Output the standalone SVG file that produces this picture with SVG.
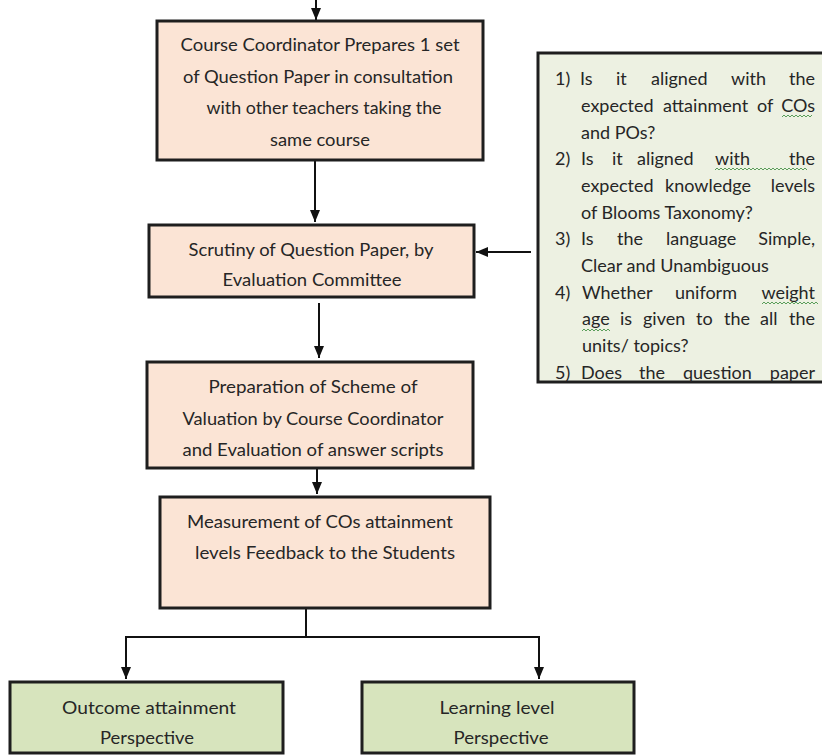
<svg xmlns="http://www.w3.org/2000/svg" width="822" height="755" viewBox="0 0 822 755">
  <style>
    .peach { fill: #FBE4D5; stroke: #1e1e1e; stroke-width: 3; }
    .olive { fill: #D7E4BD; stroke: #1e1e1e; stroke-width: 3; }
    .note  { fill: #EDF1E2; stroke: #1e1e1e; stroke-width: 3; }
    .lbl   { font-family: Lato, "Open Sans", "Liberation Sans", sans-serif; font-size: 17px; fill: #262626; text-anchor: middle; }
    .big   { font-size: 18px; }
    .q     { font-family: Lato, "Open Sans", "Liberation Sans", sans-serif; font-size: 18px; fill: #262626; }
    .qe    { text-anchor: end; }
    .wire  { fill: none; stroke: #111; stroke-width: 2; }
    .squig { fill: none; stroke: #5a9e5a; stroke-width: 1; }
  </style>
  <defs>
    <marker id="ah" viewBox="0 0 12 10" refX="12" refY="5" markerWidth="12" markerHeight="10" markerUnits="userSpaceOnUse" orient="auto">
      <path d="M0,0 L12,5 L0,10 z" fill="#111"/>
    </marker>
    <clipPath id="noteClip">
      <rect x="538" y="53" width="290" height="329"/>
    </clipPath>
  </defs>

  <!-- connectors -->
  <g id="connectors">
    <path class="wire" d="M316,-4 V20" marker-end="url(#ah)"/>
    <path class="wire" d="M315,160 V222" marker-end="url(#ah)"/>
    <path class="wire" d="M531,252 H476" marker-end="url(#ah)"/>
    <path class="wire" d="M319,303 V358" marker-end="url(#ah)"/>
    <path class="wire" d="M317,468 V494" marker-end="url(#ah)"/>
    <path class="wire" d="M306,608 V637"/>
    <path class="wire" d="M125,637 H540"/>
    <path class="wire" d="M126,637 V679" marker-end="url(#ah)"/>
    <path class="wire" d="M539,637 V679" marker-end="url(#ah)"/>
  </g>

  <!-- process steps -->
  <g id="prepare">
    <rect class="peach" x="157" y="21" width="326" height="139"/>
    <text class="lbl" x="320" y="51" textLength="279" lengthAdjust="spacingAndGlyphs">Course Coordinator Prepares 1 set</text>
    <text class="lbl" x="318" y="83" textLength="270" lengthAdjust="spacingAndGlyphs">of Question Paper in consultation</text>
    <text class="lbl" x="324" y="114" textLength="235" lengthAdjust="spacingAndGlyphs">with other teachers taking the</text>
    <text class="lbl" x="320" y="146" textLength="100" lengthAdjust="spacingAndGlyphs">same course</text>
  </g>

  <g id="scrutiny">
    <rect class="peach" x="149" y="225" width="325" height="72"/>
    <text class="lbl" x="311" y="256" textLength="245" lengthAdjust="spacingAndGlyphs">Scrutiny of Question Paper, by</text>
    <text class="lbl" x="312" y="286" textLength="179" lengthAdjust="spacingAndGlyphs">Evaluation Committee</text>
  </g>

  <g id="scheme">
    <rect class="peach" x="147" y="362" width="326" height="106"/>
    <text class="lbl" x="313" y="393" textLength="209" lengthAdjust="spacingAndGlyphs">Preparation of Scheme of</text>
    <text class="lbl" x="313" y="425" textLength="261" lengthAdjust="spacingAndGlyphs">Valuation by Course Coordinator</text>
    <text class="lbl" x="313" y="456" textLength="261" lengthAdjust="spacingAndGlyphs">and Evaluation of answer scripts</text>
  </g>

  <g id="measurement">
    <rect class="peach" x="160" y="497" width="330" height="111"/>
    <text class="lbl" x="320" y="528" textLength="266" lengthAdjust="spacingAndGlyphs">Measurement of COs attainment</text>
    <text class="lbl" x="325" y="559" textLength="260" lengthAdjust="spacingAndGlyphs">levels Feedback to the Students</text>
  </g>

  <g id="outcome">
    <rect class="olive" x="10" y="682" width="273" height="71"/>
    <text class="lbl big" x="149" y="714" textLength="174" lengthAdjust="spacingAndGlyphs">Outcome attainment</text>
    <text class="lbl big" x="147" y="744" textLength="94" lengthAdjust="spacingAndGlyphs">Perspective</text>
  </g>

  <g id="learning">
    <rect class="olive" x="362" y="682" width="272" height="71"/>
    <text class="lbl big" x="497" y="714" textLength="115" lengthAdjust="spacingAndGlyphs">Learning level</text>
    <text class="lbl big" x="501" y="744" textLength="95" lengthAdjust="spacingAndGlyphs">Perspective</text>
  </g>

  <!-- checklist used during scrutiny -->
  <g id="checklist">
    <rect class="note" x="538" y="53" width="290" height="329"/>
    <g clip-path="url(#noteClip)">
      <text class="q" y="85"><tspan x="555">1)</tspan><tspan x="580">Is</tspan><tspan x="616">it</tspan><tspan x="651">aligned</tspan><tspan x="731">with</tspan></text>
      <text class="q qe" x="815" y="85">the</text>

      <text class="q" y="112"><tspan x="581">expected</tspan><tspan x="663">attainment</tspan><tspan x="757">of</tspan></text>
      <text class="q qe" x="815" y="112">COs</text>

      <text class="q" x="581" y="139">and POs?</text>

      <text class="q" y="165"><tspan x="555">2)</tspan><tspan x="581">Is</tspan><tspan x="612">it</tspan><tspan x="637">aligned</tspan><tspan x="715">with</tspan></text>
      <text class="q qe" x="815" y="165">the</text>

      <text class="q" y="192"><tspan x="581">expected</tspan><tspan x="665">knowledge</tspan></text>
      <text class="q qe" x="815" y="192">levels</text>

      <text class="q" x="581" y="219">of Blooms Taxonomy?</text>

      <text class="q" y="245"><tspan x="555">3)</tspan><tspan x="581">Is</tspan><tspan x="617">the</tspan><tspan x="666">language</tspan></text>
      <text class="q qe" x="815" y="245">Simple,</text>

      <text class="q" x="581" y="272">Clear and Unambiguous</text>

      <text class="q" y="299"><tspan x="555">4)</tspan><tspan x="582">Whether</tspan><tspan x="675">uniform</tspan></text>
      <text class="q qe" x="815" y="299">weight</text>

      <text class="q" y="325"><tspan x="582">age</tspan><tspan x="620">is</tspan><tspan x="643">given</tspan><tspan x="696">to</tspan><tspan x="724">the</tspan><tspan x="760">all</tspan></text>
      <text class="q qe" x="815" y="325">the</text>

      <text class="q" x="582" y="352">units/ topics?</text>

      <text class="q" y="379"><tspan x="555">5)</tspan><tspan x="581">Does</tspan><tspan x="639">the</tspan><tspan x="683">question</tspan></text>
      <text class="q qe" x="815" y="379">paper</text>

      <!-- proofing squiggles -->
      <path class="squig" d="M782,117 l2,-2 l2,2 l2,-2 l2,2 l2,-2 l2,2 l2,-2 l2,2 l2,-2 l2,2 l2,-2 l2,2 l2,-2 l2,2 l2,-2"/>
      <path class="squig" d="M715,170 l2,-2 l2,2 l2,-2 l2,2 l2,-2 l2,2 l2,-2 l2,2 l2,-2 l2,2 l2,-2 l2,2 l2,-2 l2,2 l2,-2 l2,2 l2,-2 l2,2 l2,-2 l2,2 l2,-2 l2,2 l2,-2 l2,2 l2,-2 l2,2 l2,-2 l2,2 l2,-2 l2,2 l2,-2 l2,2 l2,-2 l2,2 l2,-2 l2,2 l2,-2 l2,2 l2,-2 l2,2 l2,-2 l2,2 l2,-2 l2,2 l2,-2 l2,2"/>
      <path class="squig" d="M762,304 l2,-2 l2,2 l2,-2 l2,2 l2,-2 l2,2 l2,-2 l2,2 l2,-2 l2,2 l2,-2 l2,2 l2,-2 l2,2 l2,-2 l2,2 l2,-2 l2,2 l2,-2 l2,2 l2,-2 l2,2 l2,-2 l2,2 l2,-2 l2,2 l2,-2 l2,2"/>
      <path class="squig" d="M582,331 l2,-2 l2,2 l2,-2 l2,2 l2,-2 l2,2 l2,-2 l2,2 l2,-2 l2,2 l2,-2 l2,2 l2,-2 l2,2"/>
    </g>
  </g>
</svg>
